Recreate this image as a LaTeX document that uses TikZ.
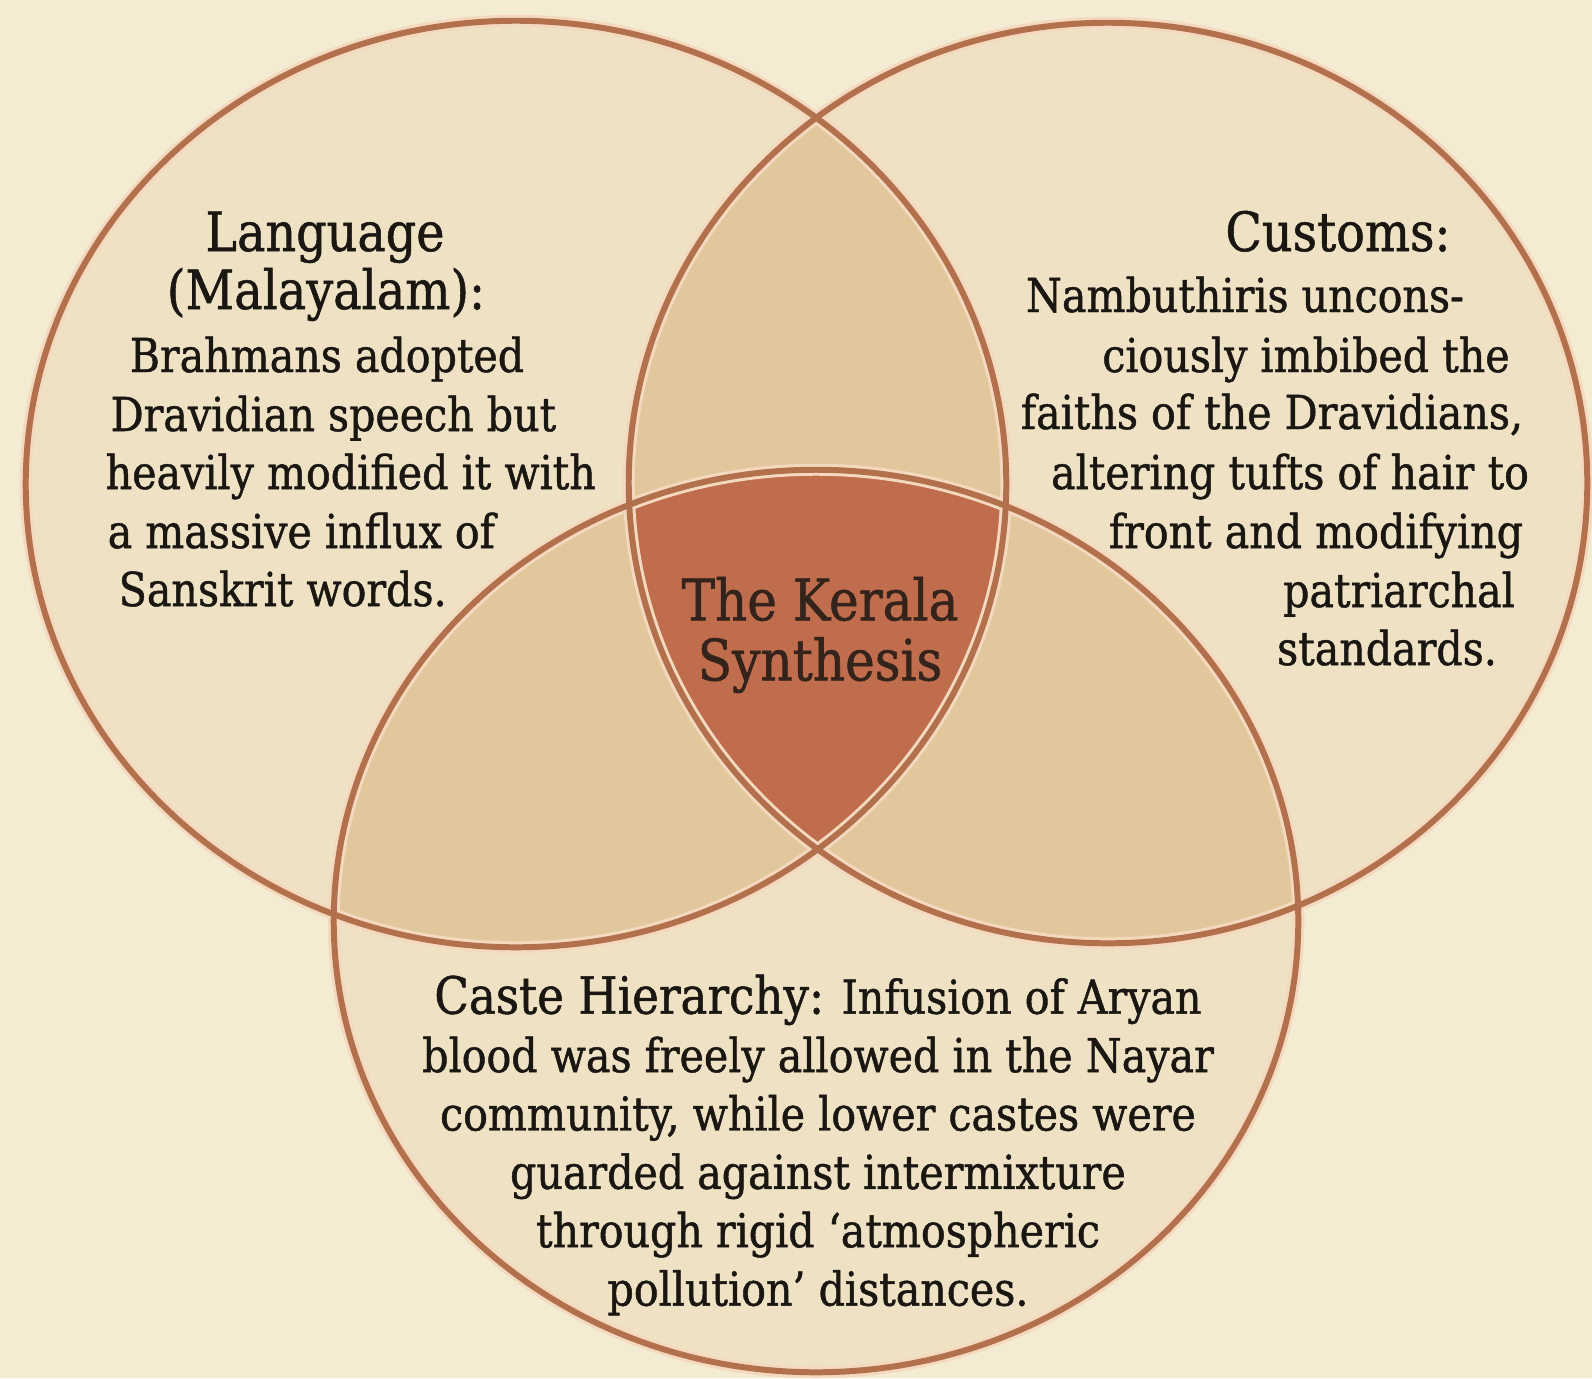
\documentclass[tikz,border=0pt]{standalone}
\usepackage{fontspec}
\setmainfont{DejaVu Serif}[FakeStretch=0.88, FakeBold=1.0]
\usepackage{xcolor}
\usepackage{tikz}
\usetikzlibrary{positioning}
\definecolor{paper}{HTML}{F3EBD2}
\definecolor{wash} {HTML}{EFE2C4}
\definecolor{sand} {HTML}{E3C79C}
\definecolor{rust} {HTML}{BF6D4D}
\definecolor{rim}  {HTML}{B3704C}
\definecolor{glow} {HTML}{F4D9BF}
\definecolor{ink}  {HTML}{1A1612}

\begin{document}
\begin{tikzpicture}[x=0.01cm,y=-0.01cm,
    rim/.style={draw=rim, line width=1.7pt},
    glow/.style={draw=glow, line width=3.4pt},
    head/.style={font=\fontsize{15.4}{18}\selectfont, text=ink, inner sep=0pt, anchor=base},
    body/.style={font=\fontsize{13.3}{16.6}\selectfont, text=ink, inner sep=0pt, anchor=base}]
  \def\ringL{(516,484) ellipse [x radius=4.90cm, y radius=4.63cm]}
  \def\ringR{(1108,483) ellipse [x radius=4.79cm, y radius=4.60cm]}
  \def\ringB{(816,921) ellipse [x radius=4.82cm, y radius=4.51cm]}
  \useasboundingbox (0,0) rectangle (1592,1378);
  \fill[paper] (0,0) rectangle (1592,1378);
  % the three circles
  \fill[wash] \ringL;
  \fill[wash] \ringR;
  \fill[wash] \ringB;
  % two-way overlaps
  \begin{scope}
    \clip \ringL;
    \fill[sand] \ringR;
    \fill[sand] \ringB;
  \end{scope}
  \begin{scope}
    \clip \ringR;
    \fill[sand] \ringB;
  \end{scope}
  % the middle
  \begin{scope}
    \clip \ringL;
    \clip \ringR;
    \fill[rust] \ringB;
  \end{scope}
  \draw[glow] \ringL; \draw[glow] \ringR; \draw[glow] \ringB;
  \draw[rim] \ringL; \draw[rim] \ringR; \draw[rim] \ringB;

  % language
  \node[head] (lang1) at (325,251) {Language};
  \node[head] (lang2) at (326,309) {(Malayalam):};
  \node[body] (lang3) at (327,372) {Brahmans adopted};
  \node[body, anchor=base west] (lang4) at (110,431) {Dravidian speech but};
  \node[body, anchor=base west] (lang5) at (105,489) {heavily modified it with};
  \node[body, anchor=base west] (lang6) at (107,548) {a massive influx of};
  \node[body, anchor=base west] (lang7) at (118,606) {Sanskrit words.};

  % customs
  \node[head] (cust1) at (1338,251) {Customs:};
  \node[body] (cust2) at (1245,312) {Nambuthiris uncons-};
  \node[body] (cust3) at (1306,372) {ciously imbibed the};
  \node[body] (cust4) at (1272,429) {faiths of the Dravidians,};
  \node[body] (cust5) at (1290,489) {altering tufts of hair to};
  \node[body] (cust6) at (1316,548) {front and modifying};
  \node[body] (cust7) at (1399,607) {patriarchal};
  \node[body] (cust8) at (1387,665) {standards.};

  % caste
  \node[body, anchor=center, align=center] (caste) at (818,1145)
    {{\fontsize{14.6}{18}\selectfont Caste Hierarchy:} Infusion of Aryan\\
     blood was freely allowed in the Nayar\\
     community, while lower castes were\\
     guarded against intermixture\\
     through rigid ‘atmospheric\\
     pollution’ distances.};

  \node[font=\fontsize{16.2}{17.1}\selectfont, text=ink!85!rust, align=center, inner sep=0pt]
    (synth) at (820,635) {The Kerala\\Synthesis};
\end{tikzpicture}
\end{document}
